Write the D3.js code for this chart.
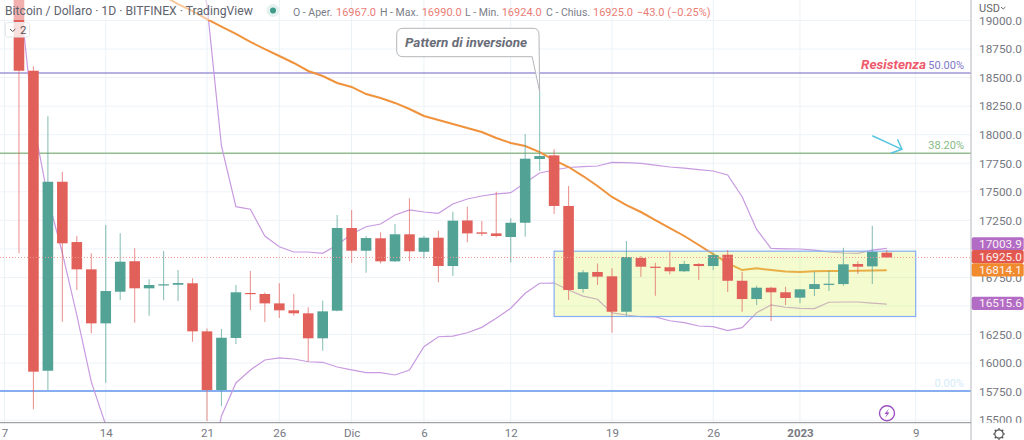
<!DOCTYPE html>
<html>
<head>
<meta charset="utf-8">
<title>Bitcoin / Dollaro</title>
<script src="https://cdnjs.cloudflare.com/ajax/libs/d3/7.8.5/d3.min.js"></script>
<style>
  html, body { margin: 0; padding: 0; background: #fff; overflow: hidden; }
  svg { display: block; font-family: Roboto, "Noto Sans", sans-serif; }
  .domain { display: none; }
  .tick line { display: none; }
</style>
</head>
<body>
<div id="chart"></div>
<script>
// Daily candles from 8 Nov 2022 to 7 Jan 2023
const days = d3.utcDay.range(new Date(Date.UTC(2022, 10, 8)), new Date(Date.UTC(2023, 0, 8)));

const opens = [19400,18560,15933,17588,17060,16821,16348,16625,16892,16655,16680,16686,16699,16278,15764,16220,16614,16605,16523,16462,16436,16217,16459,
  17183,16984,17093,16891,17128,16975,17098,16850,17249,17145,17136,17104,17229,17787,17819,17376,16649,16798,16760,16450,16920,16844,16839,16804,16868,16850,16949,16721,16561,16660,16620,
  16573,16649,16687,16692,16868,16847,16967];
const closes = [18560,15925,17588,17049,16821,16348,16631,16888,16655,16684,16690,16701,16278,15764,16222,16620,16605,16523,16462,16436,16217,16453,17183,
  16984,17095,16891,17128,16979,17098,16850,17247,17136,17133,17113,17229,17790,17813,17376,16640,16795,16757,16450,16929,16844,16835,16804,16868,16850,16946,16721,16561,16660,16620,16570,
  16646,16692,16695,16865,16844,16973,16925];
const highs = [19450,18600,18161,17676,17113,16961,17209,17136,17005,16734,16982,16815,16742,16304,16298,16684,16806,16618,16699,16605,16488,16546,17297,
  17340,17113,17145,17218,17443,17113,17159,17326,17369,17244,17501,17268,18006,18377,17872,17551,16815,16873,16830,17069,16938,16879,16975,16896,16877,16967,16990,16800,16678,16669,16669,
  16649,16800,16809,17011,16891,17203,16990];
const lows = [16961,15595,15764,16362,16640,16261,15829,16552,16354,16415,16550,16544,16187,15493,15624,16167,16465,16360,16395,16415,16012,16108,16455,
  16879,16792,16873,16885,16891,16917,16707,16763,17058,17113,17101,16882,17107,17682,17306,16552,16616,16684,16266,16415,16757,16590,16778,16798,16728,16815,16622,16450,16509,16368,16509,
  16523,16587,16631,16678,16780,16692,16924];

// Moving average and bands, null where the series is off the picture
const maValues = [null,null,null,null,null,null,null,null,null,null,
  19215,19144,19083,19013,18947,18882,18812,18750,18689,18628,18558,18514,18453,
  18418,18356,18321,18278,18225,18164,18129,18094,18059,18024,17971,17927,17901,17848,17778,17717,17638,17551,17455,17384,17323,17253,17183,17113,17034,16955,16876,16815,16830,16815,16802,
  16798,16804,16806,16806,16808,16810,16814];
const upperBand = [null,null,null,null,null,null,null,null,null,null,null,null,
  19705,19136,17901,17370,17347,17113,17019,16973,16973,16961,17035,
  17130,17194,17218,17297,17341,17323,17312,17393,17437,17463,17481,17492,17580,17665,17691,17713,17720,17726,17758,17755,17749,17734,17717,17708,17695,17682,17647,17457,17171,17005,17001,
  16999,16990,16973,16964,16961,16990,17004];
const lowerBand = [19293,18111,17446,16964,16421,15835,15458,15100,15050,15020,15000,14980,14960,14940,15537,15826,15940,16027,16045,16036,16012,16007,15966,
  15940,15916,15916,15896,15940,16143,16231,16237,16266,16313,16392,16480,16611,16699,16701,16640,16587,16559,16439,16421,16406,16404,16371,16354,16325,16319,16284,16310,16441,16509,16489,
  16480,16477,16533,16535,16535,16526,16516];

// Axes
const priceTicks = d3.range(15500, 19001, 250);
const hiddenTicks = [16500, 17000]; // sit fully under the badges
const dateTicks = [[2022,10,7],[2022,10,14],[2022,10,21],[2022,10,26],[2022,11,1],[2022,11,6],[2022,11,12],[2022,11,19],[2022,11,26],[2023,0,1],[2023,0,9]]
  .map(d => new Date(Date.UTC(d[0], d[1], d[2])));
const dateLabels = ["7","14","21","26","Dic","6","12","19","26","2023","9"];

// Fibonacci levels and price badges
const levelPrices = [18540, 17837, 15755];
const levelLabels = ["50.00%", "38.20%", "0.00%"];
const levelColors = ["#a094d8", "#93bd8f", "#86aef0"];
const labelColors = ["#8278c8", "#86ba84", "#d3ebf8"];
const badgeValues = [17003.9, 16925.0, 16814.1, 16515.6];
const badgeColors = ["#b36cc6", "#e2584f", "#f08a2d", "#b36cc6"];

const legendLabels = ["O - Aper.", "H - Max.", "L - Min.", "C - Chius."];
const legendValues = ["16967.0", "16990.0", "16924.0", "16925.0"];

const width = 1024, height = 440;
const plotRight = 971, plotBottom = 422.7;

const x = d3.scaleUtc()
  .domain([new Date(Date.UTC(2022, 10, 7)), new Date(Date.UTC(2023, 0, 9))])
  .range([4.5, 915.7]);
const y = d3.scaleLinear().domain([19000, 15500]).range([20.5, 420.2]);

// x position counted in days after 7 Nov
const dayX = n => x(new Date(Date.UTC(2022, 10, 7) + n * 864e5));

const svg = d3.select("#chart").append("svg")
  .attr("width", width)
  .attr("height", height);

const defs = svg.append("defs");
defs.append("clipPath").attr("id", "plot-clip").append("rect")
  .attr("width", plotRight).attr("height", plotBottom);
defs.append("clipPath").attr("id", "price-clip").append("rect")
  .attr("x", plotRight).attr("y", 15).attr("width", width - plotRight).attr("height", plotBottom - 15);

const plot = svg.append("g").attr("clip-path", "url(#plot-clip)");

// Grid
plot.selectAll(".hgrid").data(priceTicks).enter().append("line")
  .attr("x1", 0).attr("x2", plotRight)
  .attr("y1", d => y(d)).attr("y2", d => y(d))
  .attr("stroke", "#eef3f8");
plot.selectAll(".vgrid").data(dateTicks).enter().append("line")
  .attr("x1", d => x(d)).attr("x2", d => x(d))
  .attr("y1", 0).attr("y2", plotBottom)
  .attr("stroke", "#eaf2f6");

// Fibonacci levels
plot.selectAll(".level").data(levelPrices).enter().append("line")
  .attr("x1", 0).attr("x2", plotRight)
  .attr("y1", d => y(d)).attr("y2", d => y(d))
  .attr("stroke", (d, i) => levelColors[i])
  .attr("stroke-width", (d, i) => i === 2 ? 2 : 1.4);

// Moving average and bands
const lineFor = values => d3.line()
  .defined((d, i) => values[i] !== null)
  .x(d => x(d))
  .y((d, i) => y(values[i]));

plot.append("path").attr("d", lineFor(upperBand)(days))
  .attr("fill", "none").attr("stroke", "#c89ae0").attr("stroke-width", 1.2);
plot.append("path").attr("d", lineFor(lowerBand)(days))
  .attr("fill", "none").attr("stroke", "#c89ae0").attr("stroke-width", 1.2);
plot.append("path").attr("d", lineFor(maValues)(days))
  .attr("fill", "none").attr("stroke", "#f0923c").attr("stroke-width", 2);

// Range box, tints the lines but not the candles
plot.append("rect")
  .attr("x", x(new Date(Date.UTC(2022, 11, 15))))
  .attr("width", x(new Date(Date.UTC(2023, 0, 9))) - x(new Date(Date.UTC(2022, 11, 15))))
  .attr("y", y(16980))
  .attr("height", y(16408) - y(16980))
  .attr("fill", "rgba(215,241,95,0.3)")
  .attr("stroke", "#86aef0")
  .attr("stroke-width", 1.2);

// Candles
const candles = plot.selectAll(".candle").data(days).enter().append("g");
const candleColor = i => closes[i] >= opens[i] ? "#52a296" : "#e2605a";
candles.append("line")
  .attr("x1", d => x(d)).attr("x2", d => x(d))
  .attr("y1", (d, i) => y(highs[i])).attr("y2", (d, i) => y(lows[i]))
  .attr("stroke", (d, i) => candleColor(i))
  .attr("stroke-opacity", 0.65)
  .attr("stroke-width", 1.1);
candles.append("rect")
  .attr("x", d => x(d) - 5.3)
  .attr("width", 10.6)
  .attr("y", (d, i) => y(Math.max(opens[i], closes[i])))
  .attr("height", (d, i) => Math.max(Math.abs(y(opens[i]) - y(closes[i])), 1.2))
  .attr("fill", (d, i) => candleColor(i));

// Last price line
plot.append("line")
  .attr("x1", 0).attr("x2", plotRight)
  .attr("y1", y(16925)).attr("y2", y(16925))
  .attr("stroke", "#f19a94")
  .attr("stroke-width", 1)
  .attr("stroke-dasharray", "1 2");

// Level labels
plot.selectAll(".level-label").data(levelLabels).enter().append("text")
  .attr("x", 964)
  .attr("y", (d, i) => y(levelPrices[i]) - 4)
  .attr("text-anchor", "end")
  .attr("font-size", 11)
  .attr("fill", (d, i) => labelColors[i])
  .text(d => d);

plot.append("text")
  .attr("x", 926)
  .attr("y", y(18540) - 4)
  .attr("text-anchor", "end")
  .attr("font-size", 13.5)
  .attr("font-weight", 700)
  .attr("font-style", "italic")
  .attr("fill", "#ee5a6c")
  .text("Resistenza");

// Arrow pointing to the 38.2% level
const arrowLine = d3.line().x(d => dayX(d[0])).y(d => y(d[1]));
plot.append("path")
  .attr("d", arrowLine([[60, 17991], [62.05, 17872]]))
  .attr("fill", "none").attr("stroke", "#58c5e0").attr("stroke-width", 1.5);
plot.append("path")
  .attr("d", arrowLine([[61.74, 17960], [62.05, 17872], [61.28, 17837]]))
  .attr("fill", "none").attr("stroke", "#58c5e0").attr("stroke-width", 1.5);

// Callout on the reversal candle
const tipX = x(days[36]), tipY = y(highs[36]);
const callout = d3.path();
callout.moveTo(tipX, tipY);
callout.lineTo(tipX - 7.5, 56.7);
callout.lineTo(403, 56.7);
callout.quadraticCurveTo(396.7, 56.7, 396.7, 50.5);
callout.lineTo(396.7, 34.5);
callout.quadraticCurveTo(396.7, 28.3, 403, 28.3);
callout.lineTo(533, 28.3);
callout.quadraticCurveTo(539, 28.3, 539, 34.5);
callout.closePath();
plot.append("path")
  .attr("d", callout.toString())
  .attr("fill", "rgba(255,255,255,0.85)")
  .attr("stroke", "#b4b6bb")
  .attr("stroke-width", 1);
plot.append("text")
  .attr("x", 405).attr("y", 47)
  .attr("font-size", 13.5)
  .attr("font-weight", 700)
  .attr("font-style", "italic")
  .attr("fill", "#6a6d78")
  .text("Pattern di inversione");

// Lightning badge
plot.append("circle")
  .attr("cx", 887).attr("cy", 413.3).attr("r", 7.5)
  .attr("fill", "#fff").attr("stroke", "#9c4fc0").attr("stroke-width", 1.4);
plot.append("path")
  .attr("d", "M889 408.5 L884.5 414 L887 414 L885 418 L889.5 412.5 L887 412.5 Z")
  .attr("fill", "#9c4fc0");

// Header, veils the candle that runs under it
svg.append("rect")
  .attr("width", 255).attr("height", 20)
  .attr("fill", "#fff").attr("fill-opacity", 0.5);
svg.append("text")
  .attr("x", 5).attr("y", 15)
  .attr("font-size", 12.2)
  .attr("fill", "#60636e")
  .text("Bitcoin / Dollaro · 1D · BITFINEX · TradingView");
svg.append("circle").attr("cx", 273).attr("cy", 10.5).attr("r", 6.5).attr("fill", "#e4f1ee");
svg.append("circle").attr("cx", 273).attr("cy", 10.5).attr("r", 3).attr("fill", "#3f9c8a");

const legendX = [293, 380, 465, 546];
const valueX = [336, 421.7, 501.7, 593];
svg.selectAll(".legend-label").data(legendLabels).enter().append("text")
  .attr("x", (d, i) => legendX[i]).attr("y", 16)
  .attr("font-size", 10.5)
  .attr("fill", "#7a7d88")
  .text(d => d);
svg.selectAll(".legend-value").data(legendValues).enter().append("text")
  .attr("x", (d, i) => valueX[i]).attr("y", 16)
  .attr("font-size", 11)
  .attr("fill", "#ea7d76")
  .text(d => d);
svg.append("text").attr("x", 636.7).attr("y", 16)
  .attr("font-size", 11).attr("fill", "#ea7d76")
  .text("−43.0 (−0.25%)");

// Collapse button
svg.append("rect")
  .attr("x", 5.5).attr("y", 22.5).attr("width", 24).attr("height", 14.5).attr("rx", 2)
  .attr("fill", "#fff").attr("fill-opacity", 0.8).attr("stroke", "#e6e8ec");
svg.append("path")
  .attr("d", "M10 29 L12.7 31.5 L15.4 29")
  .attr("fill", "none").attr("stroke", "#555").attr("stroke-width", 1);
svg.append("text")
  .attr("x", 20).attr("y", 34)
  .attr("font-size", 11.5).attr("fill", "#555")
  .text("2");

// Price axis
svg.append("line")
  .attr("x1", plotRight).attr("x2", plotRight).attr("y1", 0).attr("y2", height)
  .attr("stroke", "#bfc1c6").attr("stroke-width", 1.2);
svg.append("g")
  .attr("clip-path", "url(#price-clip)")
  .append("g")
  .attr("transform", `translate(${plotRight},0)`)
  .call(d3.axisRight(y)
    .tickValues(priceTicks.filter(d => !hiddenTicks.includes(d)))
    .tickSize(0).tickPadding(8).tickFormat(d3.format(".1f")))
  .call(g => g.selectAll("text").attr("font-size", 11.8).attr("fill", "#75787f").attr("font-family", "Roboto, sans-serif"));

svg.append("text")
  .attr("x", 979).attr("y", 12)
  .attr("font-size", 11).attr("fill", "#666")
  .text("USD");
svg.append("path")
  .attr("d", "M1001 7 L1003.2 9 L1005.4 7")
  .attr("fill", "none").attr("stroke", "#666");

// Badges for the last values
const badges = svg.selectAll(".badge").data(badgeValues).enter().append("g");
const badgeY = [237.3, 250, 263.3, 296.7];
badges.append("rect")
  .attr("x", 971.7).attr("y", (d, i) => badgeY[i])
  .attr("width", 52).attr("height", 13.2).attr("rx", 2)
  .attr("fill", (d, i) => badgeColors[i]);
badges.append("text")
  .attr("x", 979).attr("y", (d, i) => badgeY[i] + 10.7)
  .attr("font-size", 11.8).attr("fill", "#fbeff0")
  .text(d => d.toFixed(1));

// Time axis
svg.append("line")
  .attr("x1", 0).attr("x2", plotRight).attr("y1", plotBottom).attr("y2", plotBottom)
  .attr("stroke", "#8a8c90").attr("stroke-width", 1);
svg.append("g")
  .attr("transform", `translate(0,${plotBottom})`)
  .call(d3.axisBottom(x).tickValues(dateTicks).tickSize(0).tickPadding(6).tickFormat((d, i) => dateLabels[i]))
  .call(g => g.selectAll("text")
    .attr("font-size", 11.5).attr("fill", "#75787f").attr("font-family", "Roboto, sans-serif")
    .attr("font-weight", (d, i) => dateLabels[i] === "2023" ? 700 : 400));

// Settings gear
const gear = svg.append("g").attr("transform", "translate(999,434)");
gear.append("circle").attr("r", 4.2).attr("fill", "none").attr("stroke", "#555").attr("stroke-width", 1.2);
gear.selectAll("line").data(d3.range(8)).enter().append("line")
  .attr("x1", d => 4.2 * Math.cos(d * Math.PI / 4)).attr("y1", d => 4.2 * Math.sin(d * Math.PI / 4))
  .attr("x2", d => 6 * Math.cos(d * Math.PI / 4)).attr("y2", d => 6 * Math.sin(d * Math.PI / 4))
  .attr("stroke", "#555").attr("stroke-width", 1.2);
</script>
</body>
</html>
